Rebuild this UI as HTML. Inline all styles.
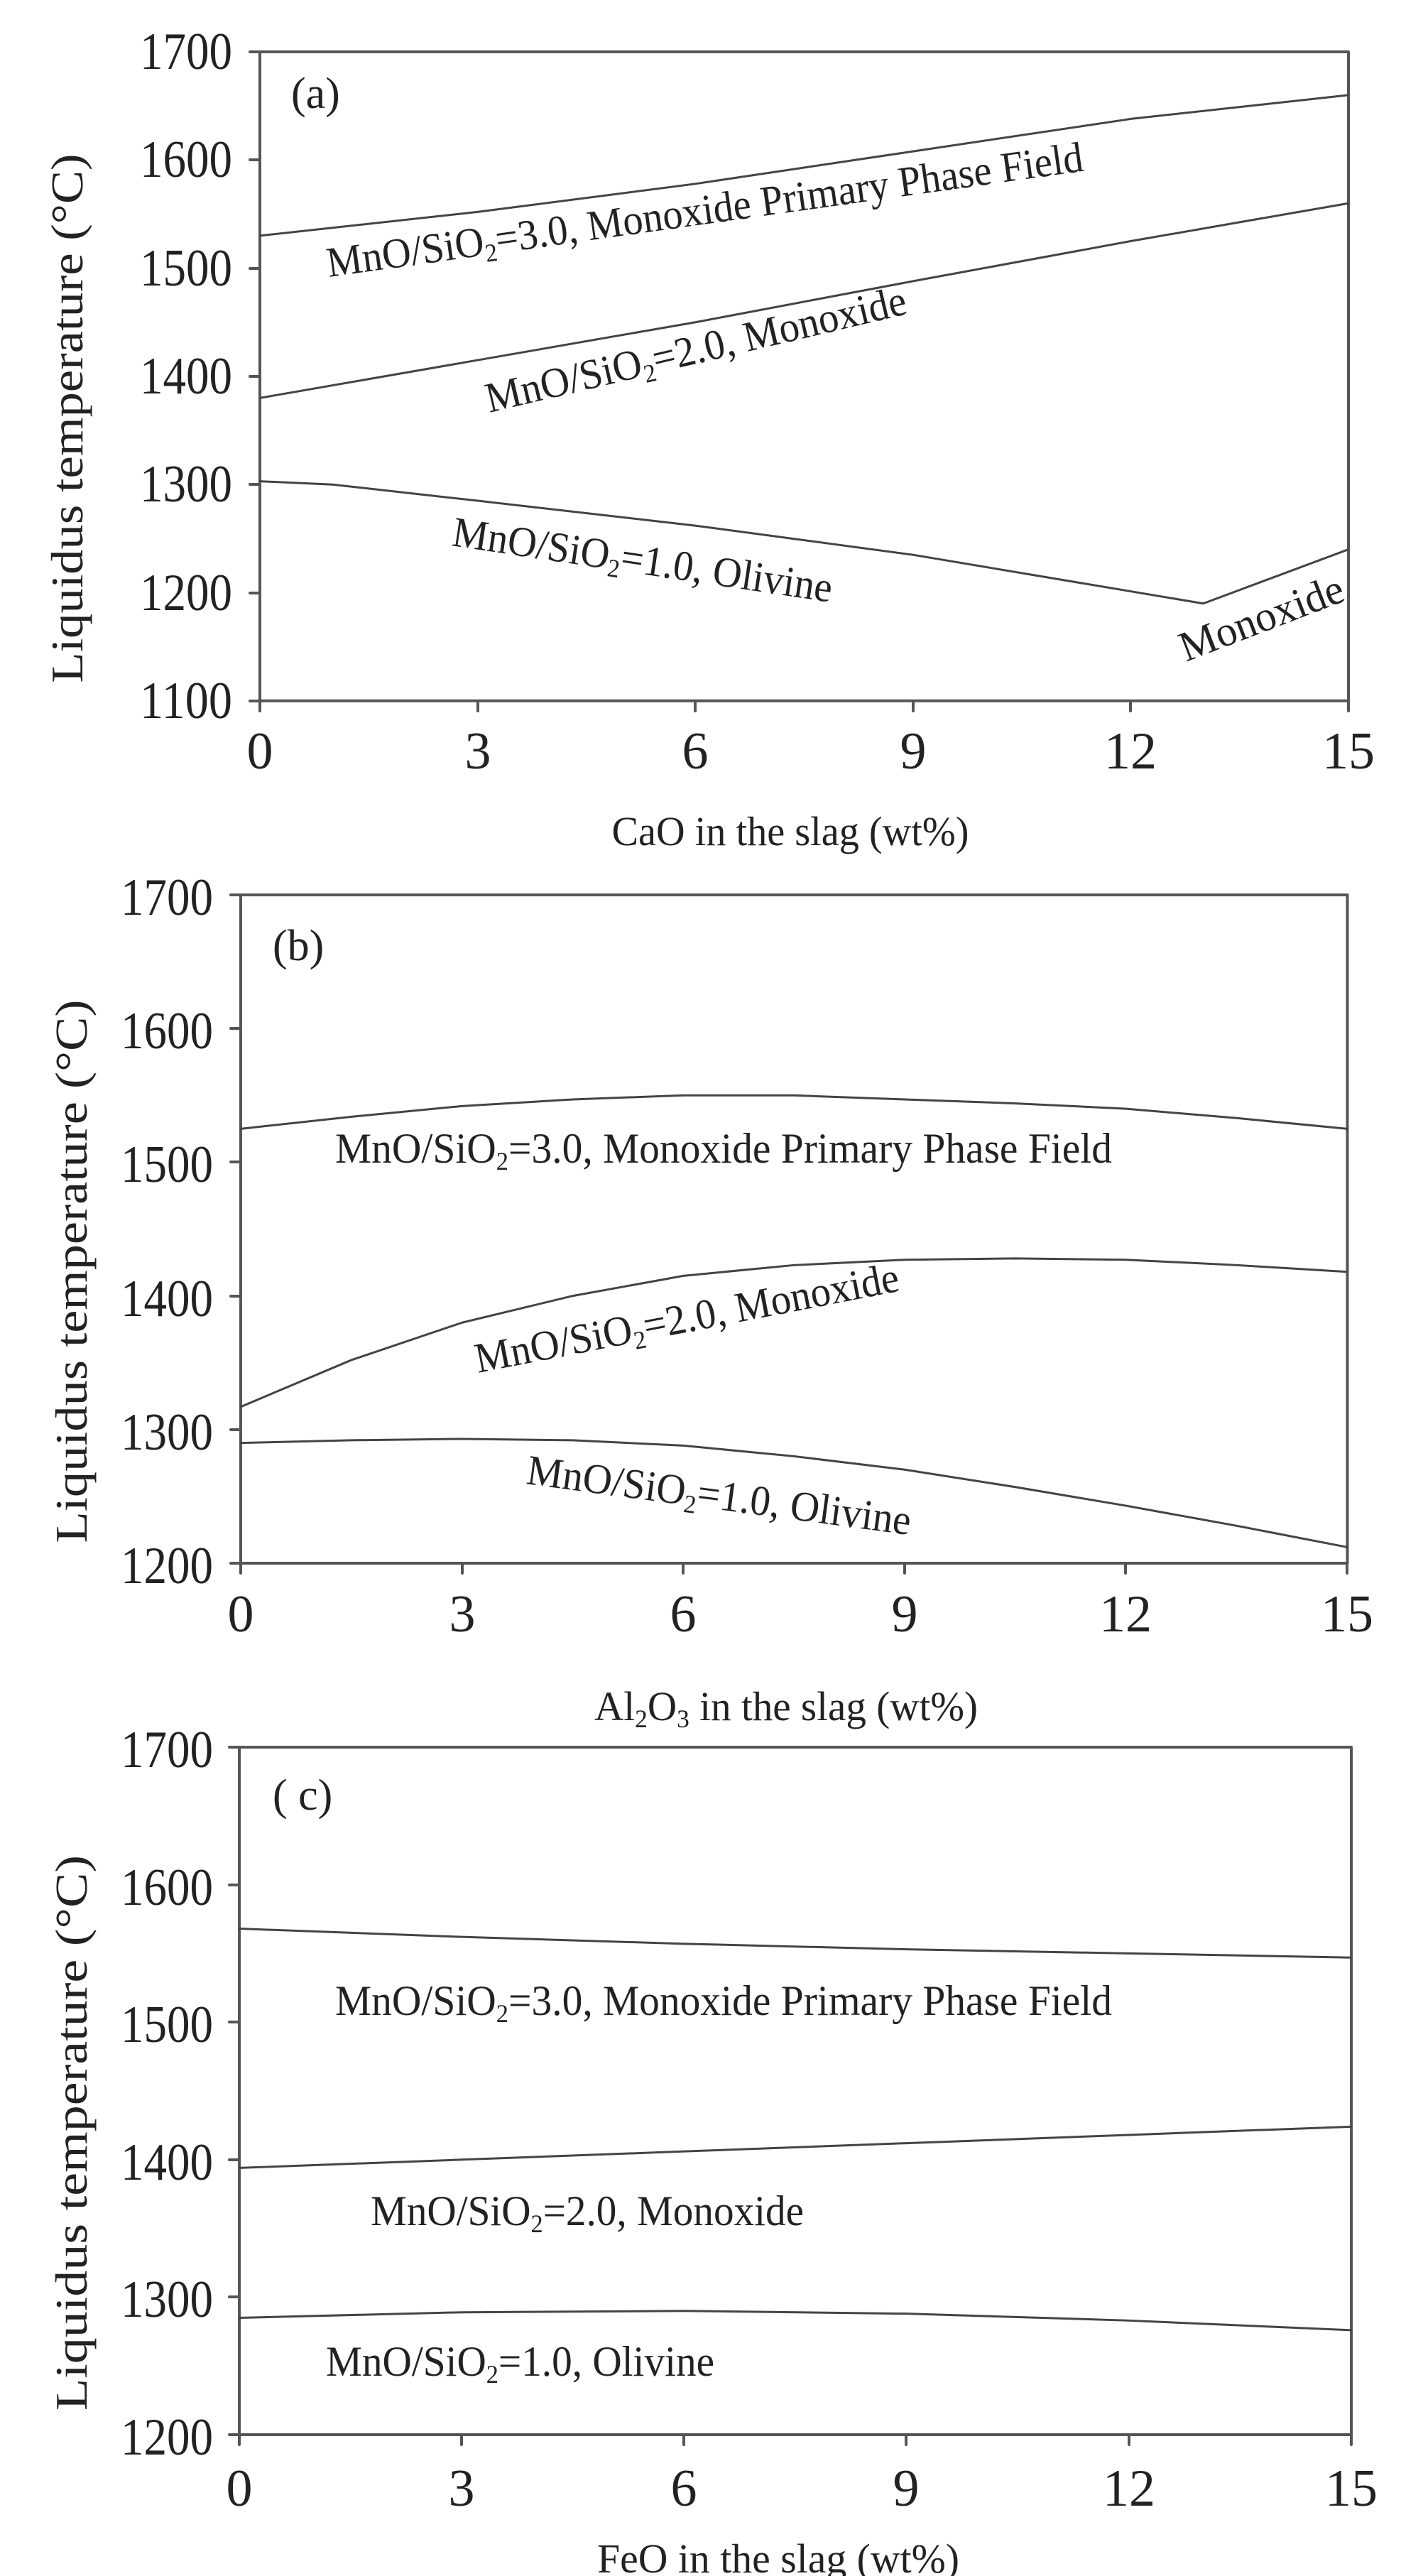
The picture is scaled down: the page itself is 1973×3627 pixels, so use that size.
<!DOCTYPE html>
<html><head><meta charset="utf-8"><style>
html,body{margin:0;padding:0;background:#fff}
svg{display:block}
text{font-family:"Liberation Serif",serif;fill:#222}
</style></head><body>
<svg width="1973" height="3627" viewBox="0 0 1973 3627" xmlns="http://www.w3.org/2000/svg">
<g stroke="#444" fill="none" stroke-linejoin="round" stroke-linecap="round">
<g transform="translate(366,73) scale(102.2,1.523)">
<rect x="0" y="0" width="15" height="600" stroke-width="4" vector-effect="non-scaling-stroke" stroke="#555"/>
<polyline vector-effect="non-scaling-stroke" stroke-width="3" points="0,170 3,148 6,122 9,92 12,62 15,40"/>
<polyline vector-effect="non-scaling-stroke" stroke-width="3" points="0,320 3,285 6,250 9,212 12,175 15,140"/>
<polyline vector-effect="non-scaling-stroke" stroke-width="3" points="0,397 1,400 3,415 6,438 9,465 13,510 15,460"/>
</g>
<g transform="translate(339,1260) scale(103.9,1.882)">
<rect x="0" y="0" width="15" height="500" stroke-width="4" vector-effect="non-scaling-stroke" stroke="#555"/>
<polyline vector-effect="non-scaling-stroke" stroke-width="3" points="0,175 1.5,166 3,158 4.5,153 6,150 7.5,150 9,153 10.5,156 12,160 13.5,167 15,175"/>
<polyline vector-effect="non-scaling-stroke" stroke-width="3" points="0,383 1.5,348 3,320 4.5,300 6,285 7.5,277 9,273 10.5,272 12,273 13.5,277 15,282"/>
<polyline vector-effect="non-scaling-stroke" stroke-width="3" points="0,410 1.5,408 3,407 4.5,408 6,412 7.5,420 9,430 10.5,443 12,457 13.5,472 15,488"/>
</g>
<g transform="translate(337,2460) scale(104.4,1.936)">
<rect x="0" y="0" width="15" height="500" stroke-width="4" vector-effect="non-scaling-stroke" stroke="#555"/>
<polyline vector-effect="non-scaling-stroke" stroke-width="3" points="0,132 3,138 6,143 9,147 12,150 15,153"/>
<polyline vector-effect="non-scaling-stroke" stroke-width="3" points="0,306 3,300 6,294 9,288 12,282 15,276"/>
<polyline vector-effect="non-scaling-stroke" stroke-width="3" points="0,415 3,411 6,410 9,412 12,417 15,424"/>
</g>
<g stroke="#555" stroke-width="4">
<path d="M352,73h14M352,225h14M352,378h14M352,530h14M352,682h14M352,835h14M352,987h14"/>
<path d="M366,987v14M673,987v14M979,987v14M1286,987v14M1592,987v14M1899,987v14"/>
<path d="M325,1260h14M325,1448h14M325,1636h14M325,1825h14M325,2013h14M325,2201h14"/>
<path d="M339,2201v14M651,2201v14M962,2201v14M1274,2201v14M1585,2201v14M1897,2201v14"/>
<path d="M323,2460h14M323,2654h14M323,2847h14M323,3041h14M323,3234h14M323,3428h14"/>
<path d="M337,3428v14M650,3428v14M963,3428v14M1276,3428v14M1590,3428v14M1903,3428v14"/>
</g>
</g>

<g font-size="74" text-anchor="end">
<text x="327" y="97" textLength="130" lengthAdjust="spacingAndGlyphs">1700</text>
<text x="327" y="249" textLength="130" lengthAdjust="spacingAndGlyphs">1600</text>
<text x="327" y="402" textLength="130" lengthAdjust="spacingAndGlyphs">1500</text>
<text x="327" y="554" textLength="130" lengthAdjust="spacingAndGlyphs">1400</text>
<text x="327" y="706" textLength="130" lengthAdjust="spacingAndGlyphs">1300</text>
<text x="327" y="859" textLength="130" lengthAdjust="spacingAndGlyphs">1200</text>
<text x="327" y="1011" textLength="130" lengthAdjust="spacingAndGlyphs">1100</text>
<text x="300" y="1288" textLength="130" lengthAdjust="spacingAndGlyphs">1700</text>
<text x="300" y="1476" textLength="130" lengthAdjust="spacingAndGlyphs">1600</text>
<text x="300" y="1664" textLength="130" lengthAdjust="spacingAndGlyphs">1500</text>
<text x="300" y="1853" textLength="130" lengthAdjust="spacingAndGlyphs">1400</text>
<text x="300" y="2041" textLength="130" lengthAdjust="spacingAndGlyphs">1300</text>
<text x="300" y="2229" textLength="130" lengthAdjust="spacingAndGlyphs">1200</text>
<text x="300" y="2488" textLength="130" lengthAdjust="spacingAndGlyphs">1700</text>
<text x="300" y="2682" textLength="130" lengthAdjust="spacingAndGlyphs">1600</text>
<text x="300" y="2875" textLength="130" lengthAdjust="spacingAndGlyphs">1500</text>
<text x="300" y="3069" textLength="130" lengthAdjust="spacingAndGlyphs">1400</text>
<text x="300" y="3262" textLength="130" lengthAdjust="spacingAndGlyphs">1300</text>
<text x="300" y="3456" textLength="130" lengthAdjust="spacingAndGlyphs">1200</text>
</g>
<g font-size="74" text-anchor="middle">
<text x="366" y="1082">0</text><text x="673" y="1082">3</text><text x="979" y="1082">6</text><text x="1286" y="1082">9</text><text x="1592" y="1082">12</text><text x="1899" y="1082">15</text>
<text x="339" y="2297">0</text><text x="651" y="2297">3</text><text x="962" y="2297">6</text><text x="1274" y="2297">9</text><text x="1585" y="2297">12</text><text x="1897" y="2297">15</text>
<text x="337" y="3528">0</text><text x="650" y="3528">3</text><text x="963" y="3528">6</text><text x="1276" y="3528">9</text><text x="1590" y="3528">12</text><text x="1903" y="3528">15</text>
</g>

<g font-size="58" text-anchor="middle">
<text x="1113" y="1190" textLength="503" lengthAdjust="spacingAndGlyphs">CaO in the slag (wt%)</text>
<text x="1107" y="2422" textLength="540" lengthAdjust="spacingAndGlyphs">Al<tspan font-size="36" dy="10">2</tspan><tspan dy="-10">O</tspan><tspan font-size="36" dy="10">3</tspan><tspan dy="-10"> in the slag (wt%)</tspan></text>
<text x="1096" y="3622" textLength="510" lengthAdjust="spacingAndGlyphs">FeO in the slag (wt%)</text>
</g>
<g font-size="64" text-anchor="middle">
<text transform="translate(116,589) rotate(-90)" textLength="745" lengthAdjust="spacingAndGlyphs">Liquidus temperature (°C)</text>
<text transform="translate(122,1790) rotate(-90)" textLength="765" lengthAdjust="spacingAndGlyphs">Liquidus temperature (°C)</text>
<text transform="translate(122,3003) rotate(-90)" textLength="782" lengthAdjust="spacingAndGlyphs">Liquidus temperature (°C)</text>
</g>

<g font-size="62">
<text x="410" y="152">(a)</text>
<text x="384" y="1352">(b)</text>
<text x="384" y="2548">( c)</text>
</g>

<g font-size="60">
<text transform="translate(463,390) rotate(-8)" textLength="1075" lengthAdjust="spacingAndGlyphs">MnO/SiO<tspan font-size="36" dy="10">2</tspan><tspan dy="-10">=3.0, Monoxide Primary Phase Field</tspan></text>
<text transform="translate(689,581) rotate(-13.3)" textLength="607" lengthAdjust="spacingAndGlyphs">MnO/SiO<tspan font-size="36" dy="10">2</tspan><tspan dy="-10">=2.0, Monoxide</tspan></text>
<text transform="translate(635,768) rotate(8.5)" textLength="540" lengthAdjust="spacingAndGlyphs">MnO/SiO<tspan font-size="36" dy="10">2</tspan><tspan dy="-10">=1.0, Olivine</tspan></text>
<text transform="translate(1670,932) rotate(-21)" textLength="243" lengthAdjust="spacingAndGlyphs">Monoxide</text>

<text x="472" y="1637" textLength="1094" lengthAdjust="spacingAndGlyphs">MnO/SiO<tspan font-size="36" dy="10">2</tspan><tspan dy="-10">=3.0, Monoxide Primary Phase Field</tspan></text>
<text transform="translate(673,1933) rotate(-11)" textLength="607" lengthAdjust="spacingAndGlyphs">MnO/SiO<tspan font-size="36" dy="10">2</tspan><tspan dy="-10">=2.0, Monoxide</tspan></text>
<text transform="translate(740,2089) rotate(7.6)" textLength="545" lengthAdjust="spacingAndGlyphs">MnO/SiO<tspan font-size="36" dy="10">2</tspan><tspan dy="-10">=1.0, Olivine</tspan></text>

<text x="472" y="2837" textLength="1094" lengthAdjust="spacingAndGlyphs">MnO/SiO<tspan font-size="36" dy="10">2</tspan><tspan dy="-10">=3.0, Monoxide Primary Phase Field</tspan></text>
<text x="522" y="3133" textLength="610" lengthAdjust="spacingAndGlyphs">MnO/SiO<tspan font-size="36" dy="10">2</tspan><tspan dy="-10">=2.0, Monoxide</tspan></text>
<text x="459" y="3345" textLength="547" lengthAdjust="spacingAndGlyphs">MnO/SiO<tspan font-size="36" dy="10">2</tspan><tspan dy="-10">=1.0, Olivine</tspan></text>
</g>
</svg>
</body></html>
